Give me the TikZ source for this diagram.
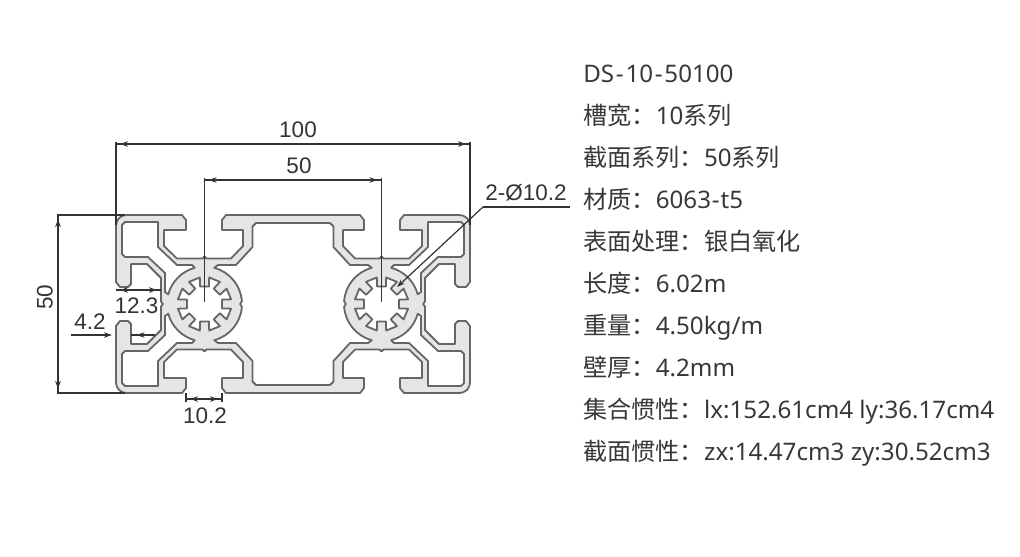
\documentclass[tikz,border=0pt]{standalone}
\usepackage{fontspec}
\usetikzlibrary{arrows.meta}
\setmainfont{Noto Sans}
\newfontfamily\cjk{Noto Sans CJK SC}
\newfontfamily\dimfont{Liberation Sans}
\newcommand{\zh}[1]{{\cjk #1}}
\definecolor{metal}{rgb}{0.90,0.90,0.90}
\definecolor{edge}{rgb}{0.40,0.40,0.40}
\definecolor{dimcol}{rgb}{0.2,0.2,0.2}
\definecolor{spec}{rgb}{0.22,0.22,0.22}
\tikzset{
	contour/.style={edge,line width=0.36mm,line join=round},
	dimline/.style={dimcol,line width=0.24mm},
	dimtips/.style={dimcol,line width=0.24mm,arrows={Stealth[length=1.6mm,width=1.1mm]-Stealth[length=1.6mm,width=1.1mm]},shorten <=0.8mm,shorten >=0.8mm},
	dimtip/.style={dimcol,line width=0.24mm,arrows={-Stealth[length=1.6mm,width=1.1mm]},shorten >=0.8mm},
	dimlabel/.style={dimcol,inner sep=0pt,anchor=base,font=\dimfont\fontsize{12.8}{14}\selectfont},
	specline/.style={spec,inner sep=0pt,anchor=base west,font=\fontsize{13.75}{16}\selectfont}
}
% upper left quarter of the profile, the others are mirrored
\newcommand{\outerline}{(294,215) -- (226,215) -- (222,220) -- (222,230) -- (243,230) -- (243,246) -- (231,258.5) -- (206.5,258.5) -- (204.5,256.5) -- (202.5,258.5) -- (177,258.5) -- (164,246) -- (164,230) -- (186,230) -- (186,220) -- (182,215) -- (128,215) .. controls (120,215) and (116,219) .. (116,227) -- (116,282) -- (120,287) -- (128,287) -- (131,284) -- (131,264) -- (147,264) -- (161,278) -- (161,301.5) -- (163,304)}
\newcommand{\cornerline}{(125,222) -- (158,222) -- (158,247) -- (177,265) -- (192,265) -- (194.8,267.8) arc[start angle=255,end angle=195,radius=37.5] -- (165,292) -- (165,273) -- (148,257) -- (125,257) -- (122,254) -- (122,225) -- cycle}
\newcommand{\chamberline}{(294,223) -- (256,223) -- (252.5,226.5) -- (252.5,247) -- (236,265) -- (218,265) -- (214.2,267.8) arc[start angle=285,end angle=356,radius=37.5] -- (240,304)}
\newcommand{\quarters}[1]{\foreach \sx/\sy in {1/1,-1/1,1/-1,-1/-1}{\begin{scope}[shift={(293,304)},xscale=\sx,yscale=\sy,shift={(-293,-304)}]#1\end{scope}}}

\begin{document}
\begin{tikzpicture}[x=0.02cm,y=-0.02cm]
	\useasboundingbox (0,0) rectangle (1020,556);
	
	%----------------------------------------------------------------
	\quarters{\fill[metal] \outerline -- (163,305) -- (294,305) -- cycle;}
	\quarters{\fill[white] \chamberline -- (294,305) -- cycle; \fill[white] \cornerline;}
	\quarters{\draw[contour] \outerline; \draw[contour] \chamberline; \draw[contour] \cornerline;}
	
	\foreach \hole in {204.5,381.5}{
		\begin{scope}[shift={(\hole,304)}]
			\draw[contour,fill=white] (14:18) \foreach \a in {0,45,...,315}{
				-- (\a+14:18) -- (\a+10:27) -- (\a+35:27) -- (\a+31:18)
			} -- cycle;
		\end{scope}
	}
	
	%----------------------------------------------------------------
	\coordinate (wideL) at (116,144);
	\coordinate (wideR) at (470,144);
	\coordinate (holeL) at (204.5,180);
	\coordinate (holeR) at (381.5,180);
	\coordinate (highT) at (58,215);
	\coordinate (highB) at (58,393);
	\coordinate (lipL) at (116,290);
	\coordinate (lipR) at (161,290);
	\coordinate (slotL) at (186,399);
	\coordinate (slotR) at (222,399);
	\coordinate (wallO) at (70.5,335);
	\coordinate (wallL) at (116,335);
	\coordinate (wallR) at (131,335);
	\coordinate (wallI) at (155,335);
	\coordinate (boreEnd) at (397,287);
	\coordinate (boreKnee) at (483,207);
	\coordinate (boreTail) at (570,207);
	
	\draw[dimline] (116,142) -- (116,225);
	\draw[dimline] (470,142) -- (470,225);
	\draw[dimline] (204.5,178) -- (204.5,302);
	\draw[dimline] (381.5,178) -- (381.5,302);
	\draw[dimline] (57,215) -- (125,215);
	\draw[dimline] (57,393) -- (125,393);
	\draw[dimline] (186,393) -- (186,402);
	\draw[dimline] (222,393) -- (222,402);
	
	\foreach \from/\to in {wideL/wideR,holeL/holeR,highT/highB,lipL/lipR,slotL/slotR}{
		\draw[dimline] (\from) -- (\to);
		\draw[dimtips] (\from) -- (\to);
	}
	\draw[dimtip] (wallO) -- (wallL);
	\draw[dimline] (wallI) -- (wallR);
	\draw[dimtip,shorten >=1.1mm] (wallI) -- (wallR);
	\draw[dimline] (boreTail) -- (boreKnee);
	\draw[dimtip,shorten >=0pt] (boreKnee) -- (boreEnd);
	
	%----------------------------------------------------------------
	\node(wide) [dimlabel] at (298,137) {100};
	\node(hole) [dimlabel] at (299,173) {50};
	\node(high) [dimlabel,rotate=90] at (52.5,297) {50};
	\node(lip) [dimlabel] at (136.5,313) {12.3};
	\node(wall) [dimlabel] at (90,329) {4.2};
	\node(slot) [dimlabel] at (205,423) {10.2};
	\node(bore) [dimlabel,anchor=base west] at (485,200) {2-Ø10.2};
	
	%----------------------------------------------------------------
	\node(model) [specline] at (583,82) {DS\kern1pt-\kern1pt10\kern1pt-\kern1pt50100};
	\node(width) [specline] at (583,124) {\zh{槽宽：}10\zh{系列}};
	\node(series) [specline] at (583,166.5) {\zh{截面系列：}50\zh{系列}};
	\node(material) [specline] at (583,208.5) {\zh{材质：}6063\kern0.5pt-\kern0.5pt t5};
	\node(surface) [specline] at (583,250.5) {\zh{表面处理：银白氧化}};
	\node(length) [specline] at (583,292.5) {\zh{长度：}6.02m};
	\node(weight) [specline] at (583,334.5) {\zh{重量：}4.50kg/m};
	\node(thick) [specline] at (583,376.5) {\zh{壁厚：}4.2mm};
	\node(inertia) [specline] at (583,418.5) {\zh{集合惯性：}lx:152.61cm4 ly:36.17cm4};
	\node(section) [specline] at (583,460.5) {\zh{截面惯性：}zx:14.47cm3 zy:30.52cm3};
	
\end{tikzpicture}
\end{document}
